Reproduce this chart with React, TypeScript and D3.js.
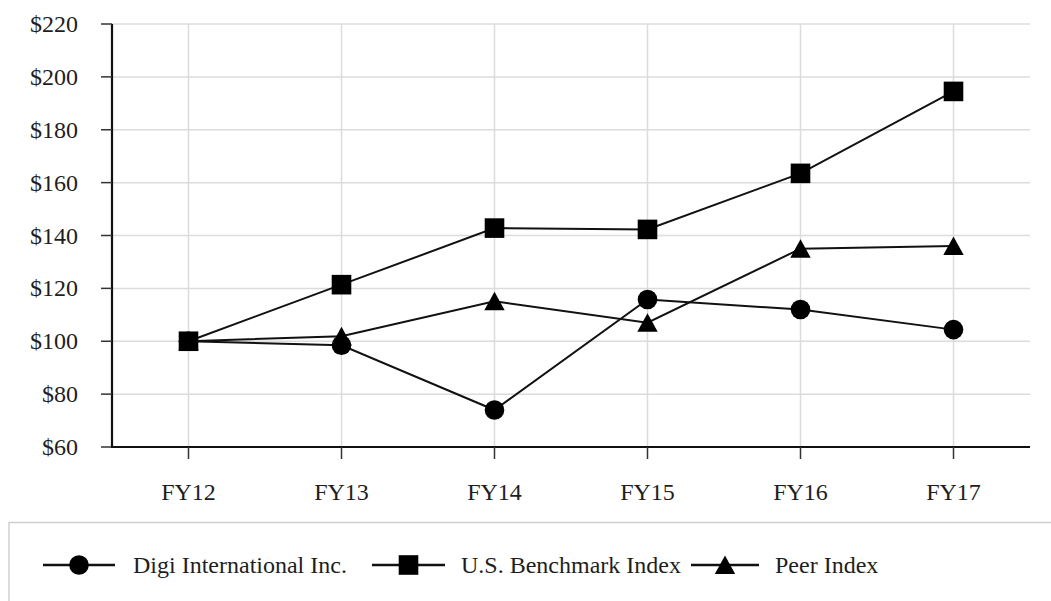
import React from "react";
import * as d3 from "d3";

const years = ["FY12", "FY13", "FY14", "FY15", "FY16", "FY17"];
const digi = [100, 98.5, 74, 115.8, 112, 104.4];
const benchmark = [100, 121.4, 142.8, 142.3, 163.5, 194.5];
const peer = [100, 101.9, 115.1, 107, 135, 136];
const yTicks = [60, 80, 100, 120, 140, 160, 180, 200, 220];

const series = [
  { name: "Digi International Inc.", values: digi, marker: "circle" },
  { name: "U.S. Benchmark Index", values: benchmark, marker: "square" },
  { name: "Peer Index", values: peer, marker: "triangle" },
];

const W = 1051;
const H = 601;
const margin = { top: 24, right: 21, bottom: 155, left: 112 };
const font = "'Liberation Serif', 'Times New Roman', serif";
const textColor = "#1e1e1e";
const gridColor = "#dcdcdc";
const fontSize = 24;

const Marker = ({ kind, x, y }: { kind: string; x: number; y: number }) => {
  if (kind === "circle") return <circle cx={x} cy={y} r={9.8} fill="#000" />;
  if (kind === "square")
    return <rect x={x - 9.8} y={y - 9.8} width={19.6} height={19.6} fill="#000" />;
  return (
    <path
      d="M0,-9.5L10.2,9L-10.2,9Z"
      transform={`translate(${x},${y})`}
      fill="#000"
    />
  );
};

export default function App() {
  const xScale = d3
    .scaleBand<string>()
    .domain(years)
    .range([margin.left, W - margin.right])
    .padding(0);
  const cx = (d: string) => (xScale(d) ?? 0) + xScale.bandwidth() / 2;

  const yScale = d3
    .scaleLinear()
    .domain([60, 220])
    .range([H - margin.bottom + 1, margin.top]);

  const line = d3
    .line<number>()
    .x((_, i) => cx(years[i]))
    .y((d) => yScale(d));

  const legendY = 565;
  const legendItems = [
    { x1: 43, x2: 115, textX: 133 },
    { x1: 372, x2: 445, textX: 461 },
    { x1: 691, x2: 759, textX: 775 },
  ];

  return (
    <svg
      width={W}
      height={H}
      style={{ position: "absolute", left: 0, top: 0, background: "#fff" }}
      fontFamily={font}
    >
      {/* grid */}
      {yTicks.map((t) => (
        <line
          key={"gy" + t}
          x1={margin.left}
          x2={W - margin.right}
          y1={yScale(t)}
          y2={yScale(t)}
          stroke={gridColor}
          strokeWidth={1.5}
        />
      ))}
      {years.map((y) => (
        <line
          key={"gx" + y}
          x1={cx(y)}
          x2={cx(y)}
          y1={yScale(220)}
          y2={yScale(60)}
          stroke={gridColor}
          strokeWidth={1.5}
        />
      ))}

      {/* y axis */}
      <line
        x1={margin.left}
        x2={margin.left}
        y1={yScale(220)}
        y2={yScale(60)}
        stroke="#111"
        strokeWidth={2.2}
      />
      {yTicks.map((t) => (
        <g key={"ty" + t}>
          <line
            x1={margin.left - 11}
            x2={margin.left}
            y1={yScale(t)}
            y2={yScale(t)}
            stroke="#333"
            strokeWidth={1.5}
          />
          <text
            x={78}
            y={yScale(t) + 8}
            textAnchor="end"
            fontSize={fontSize}
            fill={textColor}
          >
            {"$" + t}
          </text>
        </g>
      ))}

      {/* x axis */}
      <line
        x1={margin.left - 1}
        x2={W - margin.right}
        y1={yScale(60)}
        y2={yScale(60)}
        stroke="#111"
        strokeWidth={2.2}
      />
      {years.map((y) => (
        <g key={"tx" + y}>
          <line
            x1={cx(y)}
            x2={cx(y)}
            y1={yScale(60)}
            y2={yScale(60) + 12}
            stroke="#333"
            strokeWidth={1.5}
          />
          <text
            x={cx(y)}
            y={500}
            textAnchor="middle"
            fontSize={fontSize}
            fill={textColor}
          >
            {y}
          </text>
        </g>
      ))}

      {/* lines */}
      {series.map((s) => (
        <path
          key={"l" + s.name}
          d={line(s.values) ?? ""}
          fill="none"
          stroke="#111"
          strokeWidth={2}
        />
      ))}
      {series.map((s) =>
        s.values.map((v, i) => (
          <Marker key={s.name + i} kind={s.marker} x={cx(years[i])} y={yScale(v)} />
        ))
      )}

      {/* legend */}
      <rect
        x={9}
        y={522.5}
        width={W + 10}
        height={120}
        fill="none"
        stroke="#cfcfcf"
        strokeWidth={1.5}
      />
      {series.map((s, i) => {
        const it = legendItems[i];
        return (
          <g key={"lg" + s.name}>
            <line
              x1={it.x1}
              x2={it.x2}
              y1={legendY}
              y2={legendY}
              stroke="#111"
              strokeWidth={2.5}
            />
            <Marker kind={s.marker} x={(it.x1 + it.x2) / 2} y={legendY} />
            <text x={it.textX} y={legendY + 8} fontSize={fontSize} fill={textColor}>
              {s.name}
            </text>
          </g>
        );
      })}
    </svg>
  );
}
